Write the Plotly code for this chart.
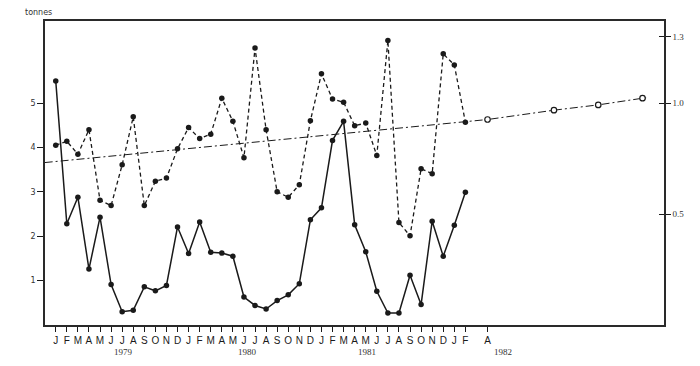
import plotly.graph_objects as go

# ---- data ----
month_labels = ["J", "F", "M", "A", "M", "J", "J", "A", "S", "O", "N", "D",
                "J", "F", "M", "A", "M", "J", "J", "A", "S", "O", "N", "D",
                "J", "F", "M", "A", "M", "J", "J", "A", "S", "O", "N", "D",
                "J", "F"]
extra_tick_month = 39          # April 1982
extra_tick_label = "A"

solid_series = [5.50, 2.28, 2.88, 1.26, 2.43, 0.91, 0.30, 0.33, 0.86, 0.77, 0.89, 2.21,
                1.61, 2.32, 1.64, 1.62, 1.55, 0.63, 0.44, 0.36, 0.55, 0.68, 0.93, 2.37,
                2.64, 4.16, 4.59, 2.26, 1.65, 0.76, 0.27, 0.27, 1.12, 0.46, 2.34, 1.55,
                2.25, 2.99]
dashed_series = [4.05, 4.14, 3.85, 4.40, 2.81, 2.69, 3.61, 4.69, 2.69, 3.24, 3.31, 3.97,
                 4.45, 4.20, 4.30, 5.11, 4.59, 3.77, 6.24, 4.40, 3.00, 2.88, 3.16, 4.60,
                 5.66, 5.09, 5.02, 4.49, 4.55, 3.82, 6.41, 2.31, 2.01, 3.52, 3.41, 6.11,
                 5.86, 4.57]

trend_months = [-1, 37, 39, 45, 49, 53, 53.4]
trend_values = [3.66, 4.57, 4.63, 4.84, 4.96, 5.11, 5.12]
forecast_months = [39, 45, 49, 53]
forecast_values = [4.63, 4.84, 4.96, 5.11]

year_labels = ["1979", "1980", "1981", "1982"]
year_positions = [6.1, 17.3, 28.1, 40.4]

left_ticks = [1, 2, 3, 4, 5]
right_ticks = [0.5, 1.0, 1.3]
right_tick_text = ["0.5", "1.0", "1.3"]

# ---- figure ----
months = list(range(len(month_labels)))
tickvals = months + [extra_tick_month]
ticktext = month_labels + [extra_tick_label]

INK = "#1a1a1a"
FRAME = "#2a2a2a"
W, H = 700, 366
ML, MR, MT, MB = 45, 36, 21, 41
fig = go.Figure()

fig.add_trace(go.Scatter(
    x=trend_months, y=trend_values, mode="lines",
    line=dict(color=INK, width=1, dash="8px,3px,2px,3px"),
    hoverinfo="skip", showlegend=False))

fig.add_trace(go.Scatter(
    x=forecast_months, y=forecast_values, mode="markers",
    marker=dict(symbol="circle", size=5.5, color="white", line=dict(color=INK, width=1.2)),
    showlegend=False))

fig.add_trace(go.Scatter(
    x=months, y=dashed_series, mode="lines+markers",
    line=dict(color=INK, width=1.3, dash="4px,3px"),
    marker=dict(symbol="circle", size=5.5, color=INK),
    showlegend=False))

fig.add_trace(go.Scatter(
    x=months, y=solid_series, mode="lines+markers",
    line=dict(color=INK, width=1.5),
    marker=dict(symbol="circle", size=5.5, color=INK),
    showlegend=False))

xr = [-0.97, 54.94]
yr = [0, 6.85]

fig.update_layout(
    width=W, height=H,
    margin=dict(l=ML, r=MR, t=MT, b=MB, autoexpand=False),
    paper_bgcolor="white", plot_bgcolor="white",
    xaxis=dict(
        range=xr, tickmode="array", tickvals=tickvals, ticktext=ticktext,
        ticks="outside", ticklen=5, tickwidth=1, tickcolor=INK,
        showline=True, linecolor=FRAME, linewidth=1.5, mirror=True,
        showgrid=False, zeroline=False, automargin=False,
        tickfont=dict(family="Liberation Sans", size=10, color=INK),
    ),
    yaxis=dict(
        range=yr, tickmode="array", tickvals=left_ticks,
        ticks="outside", ticklen=6, tickwidth=1, tickcolor=INK,
        showline=True, linecolor=FRAME, linewidth=1.5,
        showgrid=False, zeroline=False, automargin=False,
        tickfont=dict(family="DejaVu Sans", size=8, color="#333"),
    ),
    yaxis2=dict(
        range=[yr[0] / 5, yr[1] / 5], overlaying="y", side="right",
        tickmode="array", tickvals=right_ticks, ticktext=right_tick_text,
        ticks="outside", ticklen=5, tickwidth=1, tickcolor=INK,
        showline=True, linecolor=FRAME, linewidth=1.5,
        showgrid=False, zeroline=False, automargin=False,
        tickfont=dict(family="Liberation Serif", size=9, color="#333"),
    ),
    yaxis3=dict(
        range=[yr[0] / 5, yr[1] / 5], overlaying="y", side="right",
        tickmode="array", tickvals=right_ticks, showticklabels=False,
        ticks="inside", ticklen=5, tickwidth=1, tickcolor=INK,
        showline=False, showgrid=False, zeroline=False, automargin=False,
    ),
)

# dummy traces so the right-hand axes are drawn
fig.add_trace(go.Scatter(x=[None], y=[None], yaxis="y2", showlegend=False, hoverinfo="skip"))
fig.add_trace(go.Scatter(x=[None], y=[None], yaxis="y3", showlegend=False, hoverinfo="skip"))

for label, pos in zip(year_labels, year_positions):
    fig.add_annotation(x=pos, y=0, xref="x", yref="paper", yshift=-20,
                       text=label, showarrow=False, yanchor="top",
                       font=dict(family="Liberation Serif", size=9, color="#333"))

plot_h = H - MT - MB
fig.add_annotation(x=(23 - ML) / (W - ML - MR), y=(H - 13 - MB) / plot_h,
                   xref="paper", yref="paper", text="tonnes",
                   showarrow=False, xanchor="left", yanchor="middle",
                   font=dict(family="DejaVu Sans", size=8, color="#333"))

fig.write_html("out.html", config={"displayModeBar": False},
               post_script="document.body.style.margin='0';document.body.style.padding='0';")
